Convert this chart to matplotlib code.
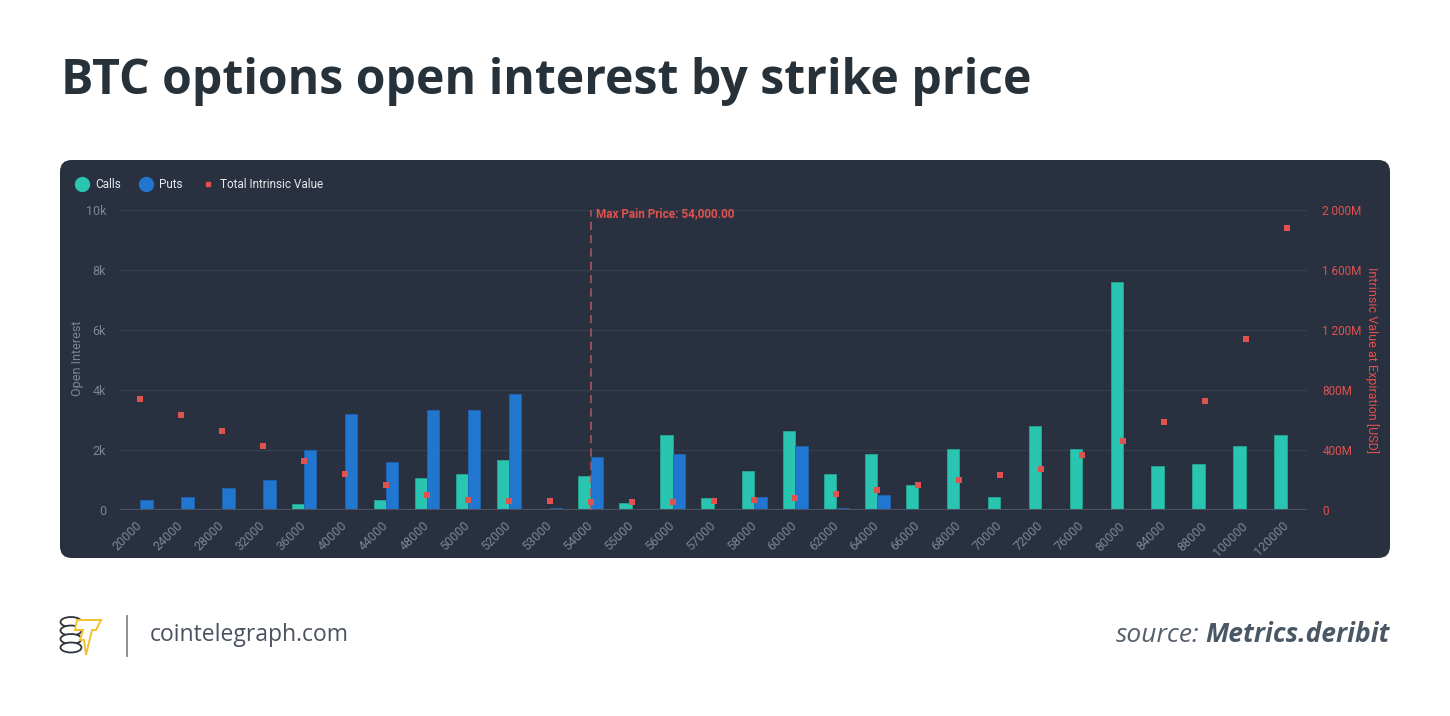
import matplotlib
matplotlib.use("Agg")
import matplotlib.pyplot as plt
from matplotlib.patches import FancyBboxPatch, Ellipse, Polygon
from matplotlib.lines import Line2D
import numpy as np

# strikes and open interest (contracts)
strikes = ["20000", "24000", "28000", "32000", "36000", "40000", "44000", "48000",
           "50000", "52000", "53000", "54000", "55000", "56000", "57000", "58000",
           "60000", "62000", "64000", "66000", "68000", "70000", "72000", "76000",
           "80000", "84000", "88000", "100000", "120000"]
calls = [0, 0, 0, 0, 210, 40, 320, 1060, 1190, 1680, 0, 1130, 220, 2500, 390, 1310,
         2640, 1200, 1860, 830, 2020, 420, 2810, 2020, 7590, 1480, 1540, 2130, 2500]
puts = [350, 420, 730, 990, 1990, 3200, 1610, 3340, 3340, 3880, 70, 1780, 50, 1860,
        30, 420, 2120, 70, 490, 0, 0, 0, 0, 0, 0, 0, 0, 0, 0]
# total intrinsic value at expiration, million USD
intrinsic = [741, 633, 530, 429, 327, 240, 165, 97, 70, 57, 57, 51, 51, 51, 58, 64,
             80, 106, 133, 166, 201, 235, 274, 365, 458, 589, 726, 1141, 1883]
max_pain = "54000"

W, H = 1450, 716
BG = "#29303f"
TEAL = "#29c5b0"
BLUE = "#2176cf"
RED = "#e0524e"
TICK = "#7d8596"


def fx(px):
    return px / W


def fy(py):
    return 1 - py / H


fig = plt.figure(figsize=(W / 100, H / 100), dpi=100)
fig.patch.set_facecolor("white")

# dark panel
panel = FancyBboxPatch((fx(60), fy(558)), fx(1390) - fx(60), fy(160) - fy(558),
                       boxstyle="round,pad=0,rounding_size=0.008",
                       transform=fig.transFigure, facecolor=BG, edgecolor="none",
                       mutation_aspect=W / H, zorder=0)
fig.add_artist(panel)

ax = fig.add_axes([fx(120), fy(510), fx(1307) - fx(120), fy(210) - fy(510)])
ax.set_facecolor("none")
ax2 = ax.twinx()

x = np.arange(len(strikes))
bw = 0.3
ax.bar(x - bw / 2, calls, bw, color=TEAL, edgecolor="#22a893", linewidth=0.6, zorder=3)
ax.bar(x + bw / 2, puts, bw, color=BLUE, edgecolor="#1d66b3", linewidth=0.6, zorder=3)
ax2.scatter(x, intrinsic, marker="s", s=14, color=RED, zorder=4, linewidths=0)

ax.set_xlim(-0.5, len(strikes) - 0.5)
ax.set_ylim(0, 10000)
ax2.set_ylim(0, 2000)
ax.set_yticks([0, 2000, 4000, 6000, 8000, 10000])
ax.set_yticklabels(["0", "2k", "4k", "6k", "8k", "10k"])
ax2.set_yticks([0, 400, 800, 1200, 1600, 2000])
ax2.set_yticklabels(["0", "400M", "800M", "1 200M", "1 600M", "2 000M"])

ax.set_xticks(x)
ax.set_xticklabels(strikes, rotation=45, ha="right", va="center", rotation_mode="anchor")
ax.tick_params(axis="x", length=0, pad=10, labelsize=9, labelcolor=TICK)
ax.tick_params(axis="y", length=0, pad=10, labelsize=9, labelcolor=TICK)
ax2.tick_params(axis="y", length=0, pad=11, labelsize=8.5, labelcolor=RED)
for lab in ax.get_xticklabels() + ax.get_yticklabels() + ax2.get_yticklabels():
    lab.set_family("Roboto")

ax.grid(axis="y", color="#353d4d", linewidth=1, zorder=0)
ax.set_axisbelow(True)
for a in (ax, ax2):
    for s in a.spines.values():
        s.set_visible(False)
ax.axhline(0, color="#4a5263", linewidth=1.5, zorder=4)

# axis titles
fig.text(fx(77), fy(358), "Open Interest", color=TICK, fontsize=9, family="Roboto",
         rotation=90, ha="center", va="center")
fig.text(fx(1372), fy(360), "Intrinsic Value at Expiration [USD]", color=RED,
         fontsize=9, family="Roboto", rotation=270, ha="center", va="center")

# max pain line
mp = strikes.index(max_pain)
ax.axvline(mp, color="#a8545a", linestyle=(0, (5, 3)), linewidth=1.2, zorder=5)
ax.text(mp + 0.12, 9880, "Max Pain Price: 54,000.00", color=RED, fontsize=8.5,
        fontweight="bold", family="Roboto", va="center", ha="left", zorder=6)

# legend
fig.add_artist(Line2D([fx(82)], [fy(184)], marker="o", markersize=10, color=TEAL,
                      linestyle="none", transform=fig.transFigure))
fig.text(fx(95), fy(184), "Calls", color="#e6e9ee", fontsize=8.5, family="Roboto",
         va="center")
fig.add_artist(Line2D([fx(146)], [fy(184)], marker="o", markersize=10, color=BLUE,
                      linestyle="none", transform=fig.transFigure))
fig.text(fx(159), fy(184), "Puts", color="#e6e9ee", fontsize=8.5, family="Roboto",
         va="center")
fig.add_artist(Line2D([fx(208)], [fy(184)], marker="s", markersize=3.5, color=RED,
                      linestyle="none", transform=fig.transFigure))
fig.text(fx(220), fy(184), "Total Intrinsic Value", color="#e6e9ee", fontsize=8.5,
         family="Roboto", va="center")

# title
fig.text(fx(61), fy(82), "BTC options open interest by strike price", color="#263139",
         fontsize=34.7, fontweight="bold", family="Open Sans", va="center", ha="left")

# footer logo
for i in range(4):
    fig.add_artist(Ellipse((fx(71), fy(622 + i * 8.5)), fx(21), 10 / H, facecolor="white",
                           edgecolor="#2d343c", linewidth=1.3, transform=fig.transFigure))
bolt = [(77, 620), (101, 620), (96, 630), (92, 630), (86, 655), (84, 640), (80, 640),
        (83, 630), (75, 630)]
fig.add_artist(Polygon([(fx(a), fy(b)) for a, b in bolt], closed=True, facecolor="white",
                       edgecolor="#f2c12e", linewidth=1.4, transform=fig.transFigure))
fig.add_artist(Line2D([fx(127), fx(127)], [fy(616), fy(656)], color="#888888",
                      linewidth=1.3, transform=fig.transFigure))
fig.text(fx(150), fy(635), "cointelegraph.com", color="#4a5260", fontsize=16.5,
         family="Open Sans", va="center", ha="left")

src = fig.text(fx(1390), fy(635), "Metrics.deribit", color="#4a5866", fontsize=19,
               family="Open Sans", style="italic", fontweight="bold",
               va="center", ha="right")
renderer = fig.canvas.get_renderer()
bb = src.get_window_extent(renderer)
fig.text(bb.x0 / W - fx(6), fy(635), "source:", color="#55606c", fontsize=19,
         family="Open Sans", style="italic", va="center", ha="right")

fig.savefig("out.png", dpi=100, facecolor="white")
